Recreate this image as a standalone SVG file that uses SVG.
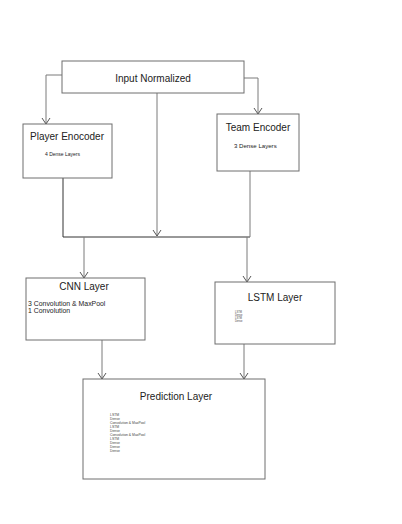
<svg xmlns="http://www.w3.org/2000/svg" width="402" height="524" viewBox="0 0 402 524">
<style>
.box{fill:#fff;stroke:#6e6e6e;stroke-width:1}
.ln{fill:none;stroke:#7a7a7a;stroke-width:1}
.dk{fill:none;stroke:#333;stroke-width:1}
.t{font-family:"Liberation Sans",Arial,sans-serif;fill:#222}
.title{font-size:10px;text-anchor:middle}
.sub{font-size:5px}
.tiny{font-size:3.4px;fill:#444}
</style>
<defs>
<marker id="arrd" viewBox="0 0 10 8" refX="5" refY="7" markerWidth="10" markerHeight="8" markerUnits="userSpaceOnUse" orient="0">
<path d="M1,1 L5,7 L9,1" fill="none" stroke="#555" stroke-width="1"/>
</marker>
</defs>
<rect width="402" height="524" fill="#fff"/>
<g id="connectors">
<path class="ln" d="M62,75 H46 V124" marker-end="url(#arrd)"/>
<path class="ln" d="M244,78 H258 V114" marker-end="url(#arrd)"/>
<path class="ln" d="M157,93 V236" marker-end="url(#arrd)"/>
<path class="dk" d="M63,178 V237 H250"/>
<path class="ln" d="M250,171 V237"/>
<path class="ln" d="M84,237 V278" marker-end="url(#arrd)"/>
<path class="ln" d="M247,237 V282" marker-end="url(#arrd)"/>
<path class="ln" d="M102,340 V379" marker-end="url(#arrd)"/>
<path class="ln" d="M244,344 V379" marker-end="url(#arrd)"/>
</g>
<g id="input">
<rect class="box" x="62" y="61" width="182" height="32"/>
<text class="t title" x="153" y="82">Input Normalized</text>
</g>
<g id="player">
<rect class="box" x="23" y="124" width="89" height="54"/>
<text class="t title" x="67" y="139.5">Player Enocoder</text>
<text class="t sub" x="45" y="155.5">4 Dense Layers</text>
</g>
<g id="team">
<rect class="box" x="217" y="114" width="82" height="57"/>
<text class="t title" x="258" y="130.5">Team Encoder</text>
<text class="t sub" x="234" y="148" style="font-size:6.1px">3 Dense Layers</text>
</g>
<g id="cnn">
<rect class="box" x="26" y="278" width="119" height="62"/>
<text class="t title" x="84" y="290">CNN Layer</text>
<text class="t sub" x="28" y="306" style="font-size:6.9px">3 Convolution &amp; MaxPool</text>
<text class="t sub" x="28" y="312.5" style="font-size:6.9px">1 Convolution</text>
</g>
<g id="lstm">
<rect class="box" x="215" y="282" width="120" height="62"/>
<text class="t title" x="275" y="300.5">LSTM Layer</text>
<text class="t tiny" x="235" y="313" style="font-size:2.6px">LSTM</text>
<text class="t tiny" x="235" y="316" style="font-size:2.6px">Dense</text>
<text class="t tiny" x="235" y="319" style="font-size:2.6px">LSTM</text>
<text class="t tiny" x="235" y="322" style="font-size:2.6px">Dense</text>
</g>
<g id="prediction">
<rect class="box" x="83" y="379" width="182" height="100"/>
<text class="t title" x="176" y="399.5">Prediction Layer</text>
<text class="t tiny" x="110" y="416">LSTM</text>
<text class="t tiny" x="110" y="420">Dense</text>
<text class="t tiny" x="110" y="424">Convolution &amp; MaxPool</text>
<text class="t tiny" x="110" y="428">LSTM</text>
<text class="t tiny" x="110" y="432">Dense</text>
<text class="t tiny" x="110" y="436">Convolution &amp; MaxPool</text>
<text class="t tiny" x="110" y="440">LSTM</text>
<text class="t tiny" x="110" y="444">Dense</text>
<text class="t tiny" x="110" y="448">Dense</text>
<text class="t tiny" x="110" y="452">Dense</text>
</g>
</svg>
